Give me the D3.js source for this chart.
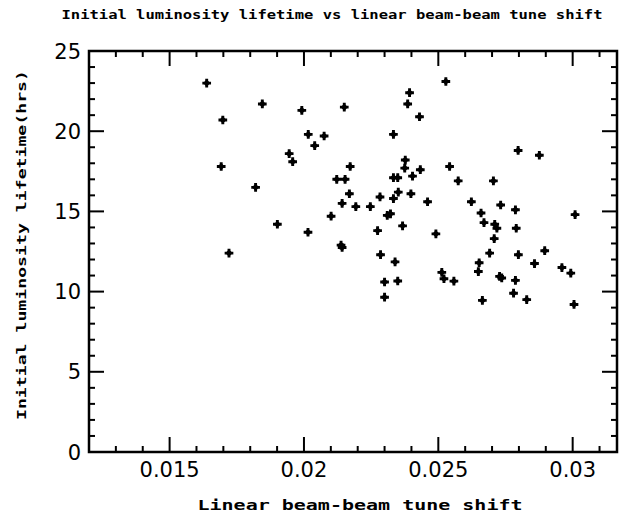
<!DOCTYPE html>
<html>
<head>
<meta charset="utf-8">
<script src="https://cdnjs.cloudflare.com/ajax/libs/d3/7.8.5/d3.min.js"></script>
<style>
  body { margin: 0; background: #fff; }
  svg { display: block; }
</style>
</head>
<body>
<div id="chart"></div>
<script>
// tune shift vs lifetime
var tune_shift = [0.01638, 0.01845, 0.01992, 0.01698, 0.02016, 0.01945, 0.01958, 0.01692, 0.01820,
    0.02528, 0.02393, 0.02386, 0.02150, 0.02430, 0.02075, 0.02333, 0.02040, 0.02377, 0.02375,
    0.02433, 0.02172, 0.02542, 0.02574, 0.02122, 0.02153, 0.02333, 0.02349, 0.02404, 0.02169,
    0.02351, 0.02398, 0.02142, 0.02193, 0.02283, 0.02247, 0.02333, 0.02460, 0.02101, 0.02310,
    0.02322, 0.02015, 0.02274, 0.02367, 0.02491, 0.02138, 0.02142, 0.02285, 0.02339, 0.02513,
    0.02521, 0.02558, 0.02300, 0.02349, 0.02300, 0.01901, 0.01721, 0.02797, 0.02876, 0.02705,
    0.02623, 0.02732, 0.02787, 0.02659, 0.03009, 0.02670, 0.02710, 0.02718, 0.02790, 0.02708,
    0.02691, 0.02798, 0.02896, 0.02652, 0.02858, 0.02960, 0.02993, 0.02649, 0.02728, 0.02736,
    0.02787, 0.02780, 0.02664, 0.02829, 0.03005];
var lifetime = [23.0, 21.7, 21.3, 20.7, 19.8, 18.6, 18.1, 17.8, 16.5,
    23.1, 22.4, 21.7, 21.5, 20.9, 19.7, 19.8, 19.1, 18.2, 17.7,
    17.6, 17.8, 17.8, 16.9, 17.0, 17.0, 17.1, 17.1, 17.2, 16.1,
    16.2, 16.1, 15.5, 15.3, 15.9, 15.3, 15.8, 15.6, 14.7, 14.75,
    14.85, 13.7, 13.8, 14.1, 13.6, 12.9, 12.75, 12.3, 11.85, 11.2,
    10.8, 10.65, 10.6, 10.66, 9.65, 14.2, 12.4, 18.8, 18.5, 16.9,
    15.6, 15.4, 15.1, 14.9, 14.8, 14.3, 14.2, 13.95, 13.95, 13.3,
    12.4, 12.3, 12.55, 11.8, 11.75, 11.5, 11.15, 11.25, 10.95, 10.85,
    10.7, 9.9, 9.45, 9.5, 9.2];

var x_ticks = [0.015, 0.02, 0.025, 0.03];
var x_tick_labels = ["0.015", "0.02", "0.025", "0.03"];
var y_ticks = [0, 5, 10, 15, 20, 25];

var W = 620, H = 519;
var left = 89, right = 617, top_ = 51, bottom = 452;

var svg = d3.select("#chart")
    .append("svg")
    .attr("width", W)
    .attr("height", H);

var xScale = d3.scaleLinear()
    .domain([0.012, 0.03165])
    .range([left, right]);

var yScale = d3.scaleLinear()
    .domain([0, 25])
    .range([bottom, top_]);

var minor_x = d3.range(12, 32).map(function(d) { return d / 1000; });
var minor_y = d3.range(0, 26);

function isMajor(list, v) {
    return list.some(function(t) { return Math.abs(t - v) < 1e-9; });
}

var ticks = svg.append("g")
    .attr("stroke", "#000")
    .attr("stroke-width", 2);

// x ticks, bottom and top, pointing inward
ticks.selectAll(".xt")
    .data(minor_x)
    .enter()
    .append("line")
    .attr("x1", function(d) { return xScale(d); })
    .attr("x2", function(d) { return xScale(d); })
    .attr("y1", bottom)
    .attr("y2", function(d) { return bottom - (isMajor(x_ticks, d) ? 15 : 6); });

ticks.selectAll(".xtt")
    .data(minor_x)
    .enter()
    .append("line")
    .attr("x1", function(d) { return xScale(d); })
    .attr("x2", function(d) { return xScale(d); })
    .attr("y1", top_)
    .attr("y2", function(d) { return top_ + (isMajor(x_ticks, d) ? 15 : 6); });

// y ticks, left and right
ticks.selectAll(".yt")
    .data(minor_y)
    .enter()
    .append("line")
    .attr("y1", function(d) { return yScale(d); })
    .attr("y2", function(d) { return yScale(d); })
    .attr("x1", left)
    .attr("x2", function(d) { return left + (isMajor(y_ticks, d) ? 15 : 6); });

ticks.selectAll(".ytr")
    .data(minor_y)
    .enter()
    .append("line")
    .attr("y1", function(d) { return yScale(d); })
    .attr("y2", function(d) { return yScale(d); })
    .attr("x1", right)
    .attr("x2", function(d) { return right - (isMajor(y_ticks, d) ? 15 : 6); });

// tick labels
svg.append("g").selectAll("text")
    .data(x_ticks)
    .enter()
    .append("text")
    .attr("x", function(d) { return xScale(d); })
    .attr("y", bottom + 25)
    .attr("text-anchor", "middle")
    .style("font-family", "'DejaVu Sans', sans-serif")
    .style("font-size", "21px")
    .text(function(d, i) { return x_tick_labels[i]; });

svg.append("g").selectAll("text")
    .data(y_ticks)
    .enter()
    .append("text")
    .attr("x", left - 8)
    .attr("y", function(d) { return yScale(d); })
    .attr("dy", "0.36em")
    .attr("text-anchor", "end")
    .style("font-family", "'DejaVu Sans', sans-serif")
    .style("font-size", "21px")
    .text(function(d) { return d; });

// frame
svg.append("rect")
    .attr("x", left)
    .attr("y", top_)
    .attr("width", right - left)
    .attr("height", bottom - top_)
    .attr("fill", "none")
    .attr("stroke", "#000")
    .attr("stroke-width", 2.5);

// points: small four-pointed blobs
var cross = d3.symbol().type(d3.symbolCross).size(42);
var square = d3.symbol().type(d3.symbolSquare).size(26);

var pts = svg.append("g").selectAll("g")
    .data(tune_shift)
    .enter()
    .append("g")
    .attr("transform", function(d, i) {
        return "translate(" + xScale(d) + "," + yScale(lifetime[i]) + ")";
    });
pts.append("path").attr("d", cross).attr("fill", "#000");
pts.append("path").attr("d", square).attr("transform", "rotate(45)").attr("fill", "#000");

// titles
svg.append("text")
    .attr("x", 332)
    .attr("y", 19)
    .attr("text-anchor", "middle")
    .attr("textLength", 541)
    .attr("lengthAdjust", "spacingAndGlyphs")
    .style("font-family", "'DejaVu Sans Mono', monospace")
    .style("font-weight", "bold")
    .style("font-size", "12px")
    .text("Initial luminosity lifetime vs linear beam-beam tune shift");

svg.append("text")
    .attr("x", 360)
    .attr("y", 510)
    .attr("text-anchor", "middle")
    .attr("textLength", 325)
    .attr("lengthAdjust", "spacingAndGlyphs")
    .style("font-family", "'DejaVu Sans Mono', monospace")
    .style("font-weight", "bold")
    .style("font-size", "14px")
    .text("Linear beam-beam tune shift");

svg.append("text")
    .attr("transform", "translate(26,245) rotate(-90)")
    .attr("text-anchor", "middle")
    .attr("textLength", 350)
    .attr("lengthAdjust", "spacingAndGlyphs")
    .style("font-family", "'DejaVu Sans Mono', monospace")
    .style("font-weight", "bold")
    .style("font-size", "13px")
    .text("Initial luminosity lifetime(hrs)");
</script>
</body>
</html>
